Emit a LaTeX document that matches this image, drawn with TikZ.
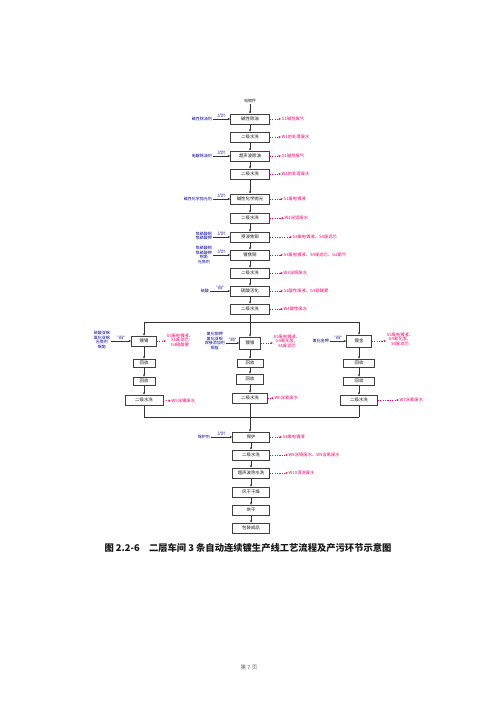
\documentclass[tikz,border=0pt]{standalone}
\usepackage{fontspec}
\newfontfamily\cjk{Noto Sans CJK SC}
\usetikzlibrary{arrows.meta}
\begin{document}
\begin{tikzpicture}[x=1pt,y=-1pt,
  box/.style={draw=black!75,line width=0.5pt,minimum width=39pt,minimum height=10pt,inner sep=0pt,fill=white,text=black!90,font=\cjk\fontsize{4.4}{5}\selectfont},
  sbox/.style={box,minimum height=8pt},
  inp/.style={text=blue!55!black,align=center,inner sep=1pt,font=\cjk\fontsize{4}{4.4}\selectfont},
  outp/.style={text=magenta!75!red,anchor=west,inner sep=0.5pt,align=center,font=\cjk\fontsize{4.3}{4.6}\selectfont},
  cond/.style={text=blue!55!black,align=center,inner sep=0.8pt,font=\cjk\fontsize{2.3}{2.6}\selectfont},
  flow/.style={draw=black!80,line width=0.45pt,-{Stealth[length=2.6pt,width=2.2pt]}},
  link/.style={draw=black!80,line width=0.45pt},
  waste/.style={draw=magenta!75!red,line width=0.45pt,dash pattern=on 1.2pt off 1.2pt,-{Stealth[length=2.6pt,width=2.2pt]}}]
\useasboundingbox (0,0) rectangle (500,707);
\fill[white] (0,0) rectangle (500,707);
% main column
\node[inp,text=black!85] (top) at (250,101) {电镀件};
\node[box] (m1) at (250,119) {碱性除油};
\node[box] (m2) at (250,137) {二级水洗};
\node[box] (m3) at (250,156) {超声波除油};
\node[box] (m4) at (250,174) {二级水洗};
\node[box] (m5) at (250,199) {碱性化学抛光};
\node[box] (m6) at (250,218) {二级水洗};
\node[box] (m7) at (250,237) {预浸焦铜};
\node[box] (m8) at (250,255) {镀焦铜};
\node[box] (m9) at (250,273) {二级水洗};
\node[box] (m10) at (250,291) {硫酸活化};
\node[box] (m11) at (250,309) {二级水洗};
\draw[flow] (top) -- (m1);
\foreach \a/\b in {m1/m2,m2/m3,m3/m4,m4/m5,m5/m6,m6/m7,m7/m8,m8/m9,m9/m10,m10/m11}{\draw[flow] (\a) -- (\b);}
% inputs
\node[inp,anchor=east] (i1) at (213,119) {碱性除油剂};
\node[inp,anchor=east] (i3) at (213,156) {电解除油剂};
\node[inp,anchor=east] (i5) at (213,199) {碱性化学抛光剂};
\node[inp,anchor=east] (i7) at (213,236) {焦磷酸铜\\焦磷酸钾};
\node[inp,anchor=east] (i8) at (213,255) {焦磷酸铜\\焦磷酸钾\\铜角\\光亮剂};
\node[inp,anchor=east] (i10) at (210,291) {硫酸};
\draw[flow] (i1.east) -- node[cond,above]{1-5min\\40-60℃} (m1.west);
\draw[flow] (i3.east) -- node[cond,above]{1-5min\\40-60℃} (m3.west);
\draw[flow] (i5.east) -- node[cond,above]{1-3min\\40-60℃} (m5.west);
\draw[flow] (i7.east |- m7.west) -- node[cond,above]{1-3min\\40-50℃} (m7.west);
\draw[flow] (i8.east |- m8.west) -- node[cond,above]{1-5min\\40-50℃} (m8.west);
\draw[flow] (i10.east) -- node[cond,above]{1-3min\\常温} (m10.west);
% outputs
\node[outp] (o1) at (281,119) {G1碱性废气};
\node[outp] (o2) at (281,137) {W1前处理废水};
\node[outp] (o3) at (281,156) {G1碱性废气};
\node[outp] (o4) at (281,174) {W1前处理废水};
\node[outp] (o5) at (283,199) {S1废电镀液};
\node[outp] (o6) at (284,218) {W2含铝废水};
\node[outp] (o7) at (292,237) {S3废电镀液、S4废滤芯};
\node[outp] (o8) at (283,255) {S3废电镀液、S4废滤芯、G2氨气};
\node[outp] (o9) at (283,273) {W3含铜废水};
\node[outp] (o10) at (283,291) {S2酸性废液、G3硫酸雾};
\node[outp] (o11) at (283,309) {W4酸性废水};
\foreach \i in {1,...,11}{\draw[waste] (m\i.east) -- (o\i.west);}
% split
\coordinate (sp) at (250,322);
\coordinate (sL) at (144,322);
\coordinate (sR) at (359,322);
\draw[link] (m11.south) -- (sp);
\draw[link] (sL) -- (sR);
% left branch
\node[box,minimum width=25pt,minimum height=10pt] (L1) at (144,341) {镀锡};
\node[sbox,minimum width=22pt] (L2) at (144,363) {回收};
\node[sbox,minimum width=22pt] (L3) at (144,381) {回收};
\node[box,minimum width=38pt] (L4) at (144,400) {二级水洗};
% middle branch
\node[box,minimum width=21pt,minimum height=12pt] (C1) at (250,343) {镀银};
\node[sbox,minimum width=26pt] (C2) at (250,363) {回收};
\node[sbox,minimum width=27pt,minimum height=10pt] (C3) at (250,379) {回收};
\node[box,minimum width=35pt] (C4) at (250,398) {二级水洗};
% right branch
\node[box,minimum width=25pt,minimum height=12pt] (R1) at (359,341) {镀金};
\node[sbox,minimum width=31pt] (R2) at (359,363) {回收};
\node[sbox,minimum width=31pt] (R3) at (359,381) {回收};
\node[box,minimum width=37pt] (R4) at (359,400) {二级水洗};
\draw[flow] (sL) -- (L1);
\draw[flow] (sp) -- (C1);
\draw[flow] (sR) -- (R1);
\foreach \p in {L,C,R}{\draw[flow] (\p1) -- (\p2); \draw[flow] (\p2) -- (\p3); \draw[flow] (\p3) -- (\p4);}
% branch inputs
\node[inp,anchor=east] (iL) at (111,340) {硫酸亚锡\\氯化亚锡\\光亮剂\\锡角};
\node[inp,anchor=east] (iC) at (226,341) {氰化银钾\\氰化亚银\\焊接添加剂\\银板};
\node[inp,anchor=east] (iR) at (330,341) {氰化金钾};
\draw[flow] (iL.east |- L1.west) -- node[cond,above]{1-3min\\常温} (L1.west);
\draw[flow] (iC.east |- C1.west) -- node[cond,above]{1-3min\\常温} (C1.west);
\draw[flow] (iR.east |- R1.west) -- node[cond,above]{1-3min\\常温} (R1.west);
% branch outputs
\node[outp] (oL1) at (166,340) {S5废电镀液、\\S6废滤芯\\G4硫酸雾};
\node[outp] (oL4) at (171,401) {W5含锡废水};
\node[outp] (oC1) at (273,341) {S5废电镀液、\\G4氰化氢、\\S6废滤芯};
\node[outp] (oC4) at (274,398) {W6含氰废水};
\node[outp] (oR1) at (386,339) {S5废电镀液、\\G4氰化氢、\\S6废滤芯};
\node[outp] (oR4) at (399,400) {W7含氰废水};
\draw[waste] (L1.east) -- (L1.east -| oL1.west);
\draw[waste] (L4.east) -- (oL4.west);
\draw[waste] (C1.east) -- (C1.east -| oC1.west);
\draw[waste] (C4.east) -- (oC4.west);
\draw[waste] (R1.east) -- (R1.east -| oR1.west);
\draw[waste] (R4.east) -- (oR4.west);
% merge
\coordinate (jL) at (144,417);
\coordinate (jC) at (250,417);
\coordinate (jR) at (359,417);
\draw[link] (L4.south) -- (jL);
\draw[link] (C4.south) -- (jC);
\draw[link] (R4.south) -- (jR);
\draw[link] (jL) -- (jR);
% bottom column
\node[box,minimum width=37pt] (b1) at (251,437) {保护};
\node[box,minimum width=37pt] (b2) at (251,455) {二级水洗};
\node[box,minimum width=37pt] (b3) at (251,473) {超声波热水洗};
\node[box,minimum width=37pt] (b4) at (251,492) {风干干燥};
\node[box,minimum width=37pt] (b5) at (251,510) {烘干};
\node[box,minimum width=37pt] (b6) at (251,528) {包装成品};
\draw[flow] (jC) -- (b1.north -| jC);
\foreach \a/\b in {b1/b2,b2/b3,b3/b4,b4/b5,b5/b6}{\draw[flow] (\a) -- (\b);}
\node[inp,anchor=east] (ib1) at (211,437) {保护剂};
\draw[flow] (ib1.east) -- node[cond,above]{1-3min\\40-50℃} (b1.west);
\node[outp] (ob1) at (282,437) {S8废电镀液};
\node[outp] (ob2) at (288,455) {W8含铜废水、W9含氰废水};
\node[outp] (ob3) at (288,473) {W10清洗废水};
\foreach \i in {1,2,3}{\draw[waste] (b\i.east) -- (ob\i.west);}
% caption and footer
\node[font=\cjk\bfseries\fontsize{9.3}{11}\selectfont,text=black!90] (cap) at (248,548) {图 2.2-6\quad 二层车间 3 条自动连续镀生产线工艺流程及产污环节示意图};
\node[font=\cjk\fontsize{5.5}{6}\selectfont,text=black!60] (pg) at (249,667) {第 7 页};
\end{tikzpicture}
\end{document}
